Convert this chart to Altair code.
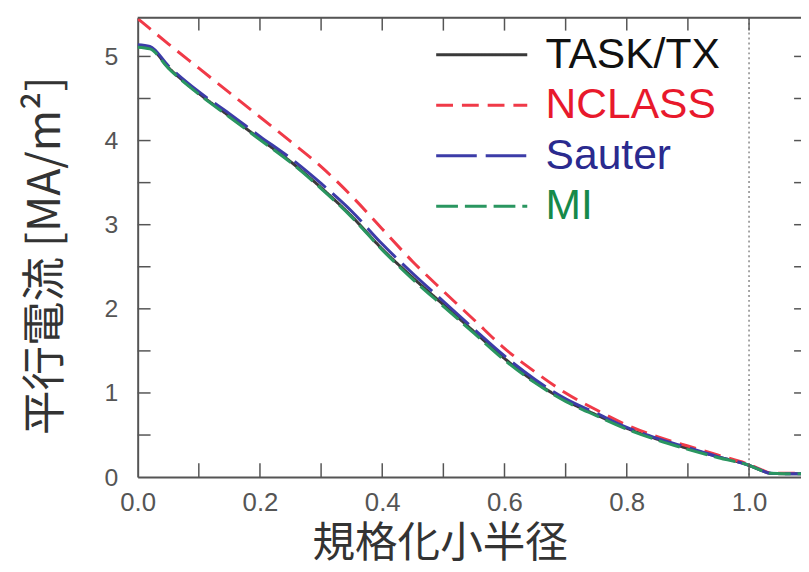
import altair as alt
import pandas as pd

# ---- data ----
x_vals = [0.0, 0.02, 0.05, 0.1, 0.15, 0.2, 0.25, 0.3, 0.35, 0.4, 0.45, 0.5, 0.55,
          0.6, 0.65, 0.7, 0.75, 0.8, 0.85, 0.9, 0.95, 1.0, 1.02, 1.035, 1.06, 1.085]
task_tx = [5.12, 5.10, 4.87, 4.56, 4.29, 4.02, 3.75, 3.44, 3.10, 2.71, 2.37, 2.05, 1.73,
           1.41, 1.13, 0.91, 0.74, 0.58, 0.45, 0.34, 0.24, 0.14, 0.08, 0.045, 0.04, 0.04]
nclass = [5.45, 5.33, 5.15, 4.86, 4.57, 4.28, 3.99, 3.69, 3.34, 2.95, 2.56, 2.21, 1.87,
          1.53, 1.25, 1.00, 0.80, 0.62, 0.48, 0.37, 0.26, 0.15, 0.09, 0.05, 0.045, 0.045]
sauter = [5.14, 5.12, 4.89, 4.58, 4.32, 4.05, 3.79, 3.49, 3.16, 2.77, 2.42, 2.09, 1.76,
          1.44, 1.16, 0.93, 0.76, 0.59, 0.46, 0.35, 0.24, 0.14, 0.08, 0.045, 0.04, 0.04]
mi = [5.11, 5.09, 4.86, 4.55, 4.28, 4.01, 3.74, 3.43, 3.09, 2.70, 2.35, 2.03, 1.71,
      1.39, 1.12, 0.90, 0.73, 0.57, 0.44, 0.33, 0.23, 0.14, 0.08, 0.045, 0.04, 0.04]

series_names = ["TASK/TX", "NCLASS", "Sauter", "MI"]
series_colors = ["#3a3a3a", "#f03a48", "#3c3ca8", "#2a9660"]
label_colors = ["#111111", "#e8192c", "#2a2a8e", "#16894a"]
series_dashes = [[1, 0], [17, 9], [41, 9], [22, 7]]

x_major = [0.0, 0.2, 0.4, 0.6, 0.8, 1.0]
x_minor = [0.1, 0.2, 0.3, 0.4, 0.5, 0.6, 0.7, 0.8, 0.9, 1.0]
y_major = [0, 1, 2, 3, 4, 5]
y_minor = [0.5, 1.0, 1.5, 2.0, 2.5, 3.0, 3.5, 4.0, 4.5, 5.0]
separatrix = [1.0]

# ---- tables ----
rows = []
for name, ys in zip(series_names, [task_tx, nclass, sauter, mi]):
    for xv, yv in zip(x_vals, ys):
        rows.append({"r": xv, "j": yv, "series": name})
df = pd.DataFrame(rows)

W, H = 670, 464
AX = "#555555"
xscale = alt.Scale(domain=[0, 1.085], nice=False, zero=False)
yscale = alt.Scale(domain=[0, 5.46], nice=False)

x_axis = alt.Axis(values=x_major, format=".1f", tickSize=0, labelPadding=13,
                  labelFlush=False,
                  labelFont="Liberation Sans", labelFontSize=26, labelColor=AX,
                  domainColor=AX, domainWidth=2, grid=False,
                  title="規格化小半径", titleFont="Noto Sans CJK JP",
                  titleFontSize=43, titleColor="#333333", titleFontWeight="normal",
                  titleX=305, titleY=67, titleAlign="center", titleBaseline="middle")
y_axis = alt.Axis(values=y_major, format="d", tickSize=0, labelPadding=20,
                  labelFlush=False,
                  labelFont="Liberation Sans", labelFontSize=25, labelColor=AX,
                  domainColor=AX, domainWidth=2, grid=False,
                  title="平行電流 [MA/m²]", titleFont="Noto Sans CJK JP",
                  titleFontSize=45, titleColor="#333333", titleFontWeight="normal",
                  titleAngle=270, titleX=-93, titleY=240,
                  titleAlign="center", titleBaseline="middle")

label_expr = " : ".join(
    f"datum.label === '{n}' ? '{c}'" for n, c in zip(series_names, label_colors)
) + " : '#111111'"

lines = alt.Chart(df).mark_line(interpolate="monotone", strokeWidth=3, clip=True).encode(
    x=alt.X("r:Q", scale=xscale, axis=x_axis),
    y=alt.Y("j:Q", scale=yscale, axis=y_axis),
    color=alt.Color("series:N", scale=alt.Scale(domain=series_names, range=series_colors),
                    legend=alt.Legend(title=None, orient="none", legendX=300, legendY=15,
                                      symbolType="stroke", symbolSize=8464,
                                      symbolStrokeWidth=3, labelFont="Liberation Sans",
                                      labelFontSize=43, labelOffset=17, labelLimit=0,
                                      labelColor=alt.expr(label_expr),
                                      clipHeight=45, rowPadding=6)),
    strokeDash=alt.StrokeDash("series:N", scale=alt.Scale(domain=series_names, range=series_dashes)),
)

sep = alt.Chart(pd.DataFrame({"r": separatrix})).mark_rule(
    color="#888888", strokeWidth=1.5, strokeDash=[2, 3]).encode(
    x=alt.X("r:Q", scale=xscale, axis=x_axis))

xt = pd.DataFrame({"r": x_minor})
yt = pd.DataFrame({"j": y_minor})
tick_style = dict(color=AX, strokeWidth=1.5)
bottom_ticks = alt.Chart(xt).mark_rule(**tick_style).encode(
    x=alt.X("r:Q", scale=xscale, axis=x_axis), y=alt.value(H), y2=alt.value(H - 14))
top_ticks = alt.Chart(xt).mark_rule(**tick_style).encode(
    x=alt.X("r:Q", scale=xscale, axis=x_axis), y=alt.value(0), y2=alt.value(13))
left_ticks = alt.Chart(yt).mark_rule(**tick_style).encode(
    y=alt.Y("j:Q", scale=yscale, axis=y_axis), x=alt.value(0), x2=alt.value(13))
right_ticks = alt.Chart(yt).mark_rule(**tick_style).encode(
    y=alt.Y("j:Q", scale=yscale, axis=y_axis), x=alt.value(W), x2=alt.value(W - 7))
top_line = alt.Chart(pd.DataFrame({"t": [0]})).mark_rule(color=AX, strokeWidth=2).encode(
    x=alt.value(0), x2=alt.value(W), y=alt.value(0))

chart = alt.layer(lines, sep, bottom_ticks, top_ticks, left_ticks, right_ticks, top_line).properties(
    width=W, height=H,
    autosize=alt.AutoSizeParams(type="none"),
    padding={"left": 131, "top": 7, "right": 0, "bottom": 90},
).configure_view(strokeWidth=0).configure(background="white")

chart.save("out.html", embed_options={"renderer": "svg", "actions": False})
